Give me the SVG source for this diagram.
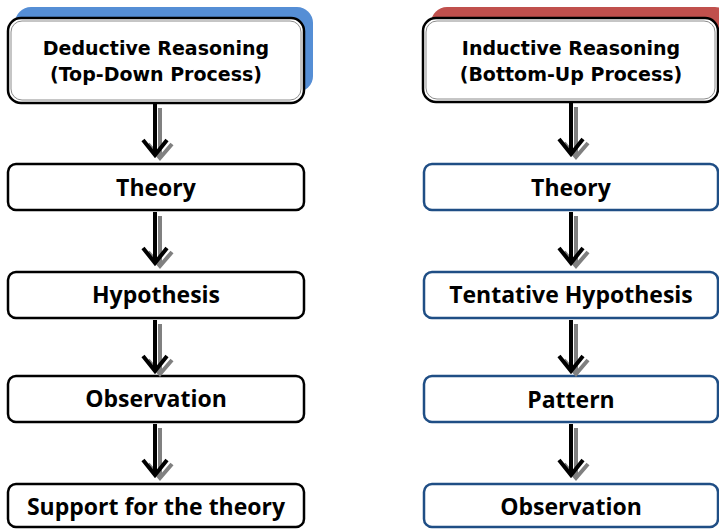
<svg xmlns="http://www.w3.org/2000/svg" width="719" height="529" viewBox="0 0 719 529">
<defs>
<style>
.hdr{font-family:"DejaVu Sans","Liberation Sans",sans-serif;font-weight:bold;font-size:19px;text-anchor:middle;fill:#000}
.lbl{font-family:"Open Sans","Liberation Sans",sans-serif;font-weight:bold;font-size:23px;text-anchor:middle;fill:#000}
.bx{fill:#fff;stroke:#000;stroke-width:2.5}
.bxb{fill:#fff;stroke:#1f4e85;stroke-width:2.5}
.hout{fill:#fff;stroke:#000;stroke-width:2.5}
.hin{fill:none;stroke:#8c8c8c;stroke-width:1}
.sh{fill:none;stroke:#808080;stroke-width:4}
.ar{fill:none;stroke:#000;stroke-width:4}
</style>
<g id="arrow">
<path class="sh" d="M5 4 V52 M-7 40 L5 54 L17 40"/>
<path class="ar" d="M0 0 V49 M-12 36 L0 51 L12 36"/>
</g>
</defs>
<g id="deductive-header">
<rect x="15" y="7" width="298" height="85" rx="16" fill="#558ed5"/>
<rect class="hout" x="8" y="18" width="296" height="85" rx="13"/>
<rect class="hin" x="11" y="21" width="290" height="79" rx="11"/>
<text class="hdr" x="156" y="55">Deductive Reasoning</text>
<text class="hdr" x="156" y="81">(Top-Down Process)</text>
</g>
<g id="inductive-header">
<rect x="431" y="7" width="300" height="85" rx="16" fill="#c0504d"/>
<rect class="hout" x="423" y="18" width="295" height="84" rx="13"/>
<rect class="hin" x="426" y="21" width="289" height="78" rx="11"/>
<text class="hdr" x="571" y="55">Inductive Reasoning</text>
<text class="hdr" x="571" y="81">(Bottom-Up Process)</text>
</g>
<g id="d-theory"><rect class="bx" x="8" y="164" width="296" height="46" rx="8"/><text class="lbl" x="156" y="196">Theory</text></g>
<g id="d-hypothesis"><rect class="bx" x="8" y="272" width="296" height="46" rx="8"/><text class="lbl" x="156" y="303">Hypothesis</text></g>
<g id="d-observation"><rect class="bx" x="8" y="376" width="296" height="46" rx="8"/><text class="lbl" x="156" y="407">Observation</text></g>
<g id="d-support"><rect class="bx" x="8" y="484" width="296" height="43" rx="8"/><text class="lbl" x="156" y="515">Support for the theory</text></g>
<g id="i-theory"><rect class="bxb" x="424" y="164" width="294" height="46" rx="8"/><text class="lbl" x="571" y="196">Theory</text></g>
<g id="i-tentative"><rect class="bxb" x="424" y="272" width="294" height="46" rx="8"/><text class="lbl" x="571" y="303">Tentative Hypothesis</text></g>
<g id="i-pattern"><rect class="bxb" x="424" y="376" width="294" height="46" rx="8"/><text class="lbl" x="571" y="408">Pattern</text></g>
<g id="i-observation"><rect class="bxb" x="424" y="484" width="294" height="43" rx="8"/><text class="lbl" x="571" y="515">Observation</text></g>
<g id="connectors">
<use href="#arrow" x="155" y="104"/>
<use href="#arrow" x="155" y="212"/>
<use href="#arrow" x="155" y="320"/>
<use href="#arrow" x="155" y="424"/>
<use href="#arrow" x="571" y="103"/>
<use href="#arrow" x="571" y="212"/>
<use href="#arrow" x="571" y="320"/>
<use href="#arrow" x="571" y="424"/>
</g>
</svg>
